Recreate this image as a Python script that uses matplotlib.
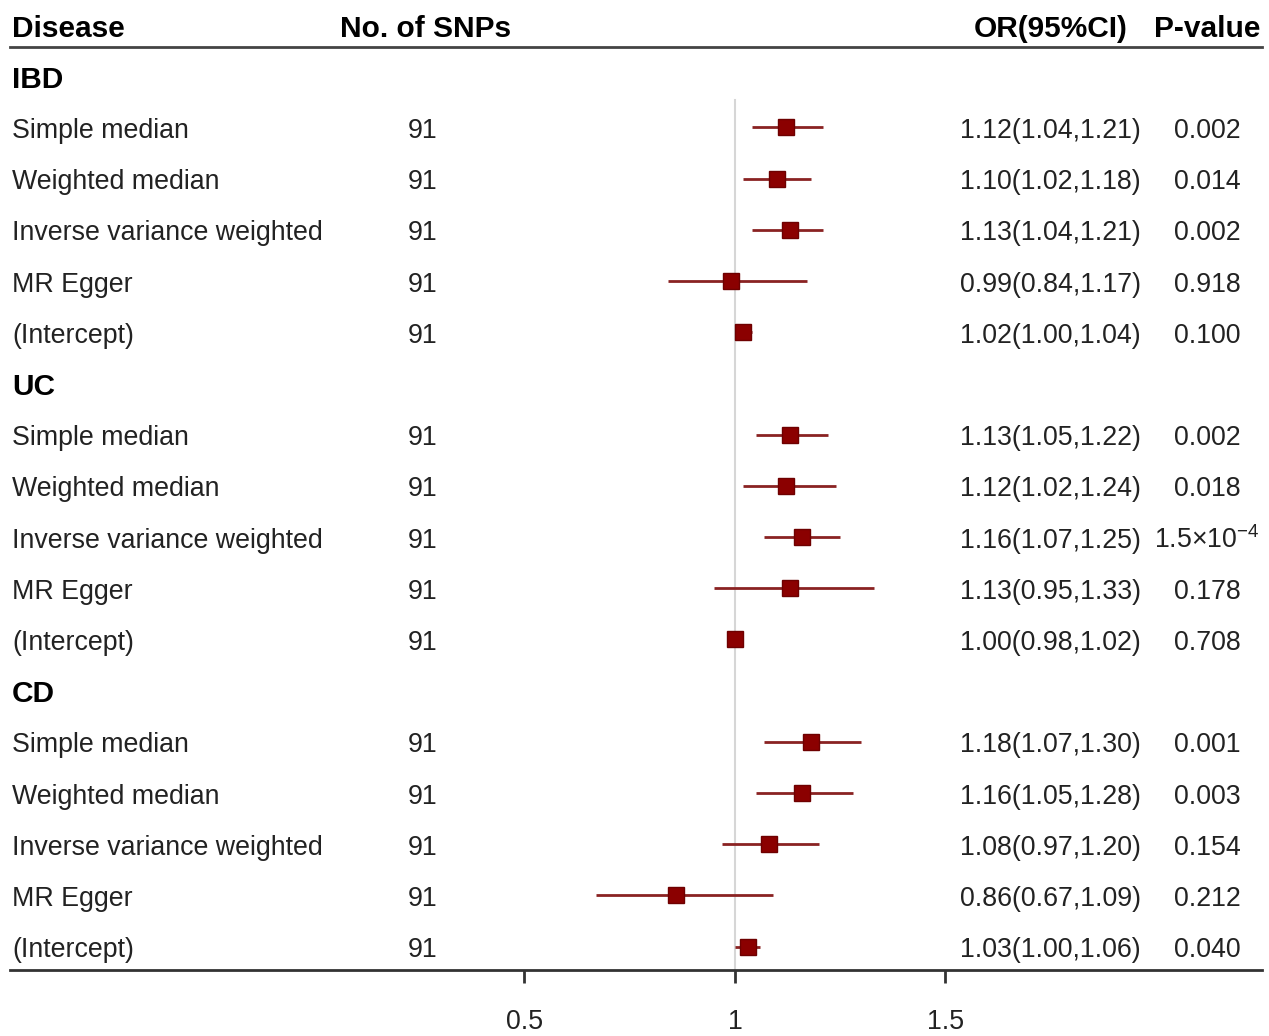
import matplotlib.pyplot as plt
import matplotlib.transforms as mtransforms

plt.rcParams['font.family'] = ['Liberation Sans', 'DejaVu Sans']
plt.rcParams['mathtext.fontset'] = 'custom'
plt.rcParams['mathtext.rm'] = 'Liberation Sans'
plt.rcParams['mathtext.it'] = 'Liberation Sans'

# data
groups = ['IBD', 'UC', 'CD']
methods = ['Simple median', 'Weighted median', 'Inverse variance weighted',
           'MR Egger', '(Intercept)']
n_snps = [91, 91, 91, 91, 91]

ibd_or = [1.12, 1.10, 1.13, 0.99, 1.02]
ibd_lo = [1.04, 1.02, 1.04, 0.84, 1.00]
ibd_hi = [1.21, 1.18, 1.21, 1.17, 1.04]
ibd_p = ['0.002', '0.014', '0.002', '0.918', '0.100']

uc_or = [1.13, 1.12, 1.16, 1.13, 1.00]
uc_lo = [1.05, 1.02, 1.07, 0.95, 0.98]
uc_hi = [1.22, 1.24, 1.25, 1.33, 1.02]
uc_p = ['0.002', '0.018', r'1.5$\times$10$^{-4}$', '0.178', '0.708']

cd_or = [1.18, 1.16, 1.08, 0.86, 1.03]
cd_lo = [1.07, 1.05, 0.97, 0.67, 1.00]
cd_hi = [1.30, 1.28, 1.20, 1.09, 1.06]
cd_p = ['0.001', '0.003', '0.154', '0.212', '0.040']

ticks = [0.5, 1, 1.5]

group_data = {
    'IBD': (ibd_or, ibd_lo, ibd_hi, ibd_p),
    'UC': (uc_or, uc_lo, uc_hi, uc_p),
    'CD': (cd_or, cd_lo, cd_hi, cd_p),
}

W, H = 1269, 1036
fig = plt.figure(figsize=(W / 100, H / 100), dpi=100)
ax = fig.add_axes([0, 66 / H, 1, 970 / H])

# pixel -> OR scale: 1.0 at x=735, 421 px per unit
ax.set_xlim(1 - 735 / 421, 1 + 534 / 421)
ax.set_ylim(18.457, -0.488)

trans = mtransforms.blended_transform_factory(ax.transAxes, ax.transData)
txt_col = '#222222'
fs = 19.3      # body text
fsb = 21.5     # bold headers
dy = 0.07      # small downward nudge for text

def px(x):
    return x / W

# header
ax.text(px(12), dy, 'Disease', transform=trans, fontsize=fsb, fontweight='bold',
        va='center', ha='left', color='black')
ax.text(px(340), dy, 'No. of SNPs', transform=trans, fontsize=fsb, fontweight='bold',
        va='center', ha='left', color='black')
ax.text(px(1128), dy, 'OR(95%CI)', transform=trans, fontsize=fsb, fontweight='bold',
        va='center', ha='right', color='black')
ax.text(px(1207), dy, 'P-value', transform=trans, fontsize=fsb, fontweight='bold',
        va='center', ha='center', color='black')
ax.axhline(0.43, xmin=px(10), xmax=px(1262), color='#444444', lw=2)

row = 1
for g in groups:
    o, lo, hi, p = group_data[g]
    ax.text(px(12), row + dy, g, transform=trans, fontsize=fsb, fontweight='bold',
            va='center', ha='left', color='black')
    row += 1
    for i, m in enumerate(methods):
        ax.text(px(12), row + dy, m, transform=trans, fontsize=fs, va='center',
                ha='left', color=txt_col)
        ax.text(px(423), row + dy, str(n_snps[i]), transform=trans, fontsize=fs,
                va='center', ha='center', color=txt_col)
        ax.text(px(1141), row + dy, f'{o[i]:.2f}({lo[i]:.2f},{hi[i]:.2f})',
                transform=trans, fontsize=fs, va='center', ha='right', color=txt_col)
        ax.text(px(1207), row + dy, p[i], transform=trans, fontsize=fs, va='center',
                ha='center', color=txt_col)
        ax.hlines(row, lo[i], hi[i], color='#8a2222', lw=2, zorder=3)
        ax.plot(o[i], row, 's', ms=12, color='#8b0000', mec='#6e0000', zorder=4)
        row += 1

# reference line at OR = 1
ax.axvline(1, ymin=0, ymax=870 / 970, color='#d6d6d6', lw=1.5, zorder=1)

for s in ['top', 'left', 'right']:
    ax.spines[s].set_visible(False)
ax.spines['bottom'].set_bounds(1 - 725 / 421, 1 + 527 / 421)
ax.spines['bottom'].set_linewidth(2)
ax.spines['bottom'].set_color('#333333')
ax.set_yticks([])
ax.set_xticks(ticks)
ax.set_xticklabels(['0.5', '1', '1.5'])
ax.tick_params(axis='x', direction='out', length=9, width=2, color='#333333',
               labelsize=fs, labelcolor=txt_col, pad=19)

fig.savefig('out.png', dpi=100)
